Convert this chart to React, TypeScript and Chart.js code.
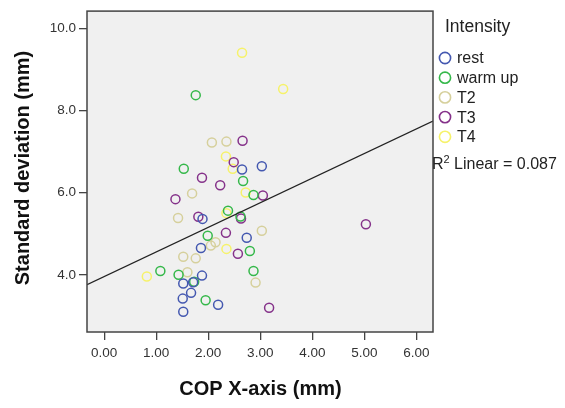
import React, { useEffect, useRef } from 'react';
import { Chart, registerables } from 'chart.js';

Chart.register(...registerables);

const FONT = "'Liberation Sans', Arial, Helvetica, sans-serif";

// Data (x = COP X-axis mm, y = standard deviation mm)
const restPoints: [number, number][] = [
  [2.65, 6.56], [3.03, 6.64], [1.89, 5.36], [2.74, 4.9], [1.86, 4.65], [1.88, 3.98],
  [1.52, 3.79], [1.71, 3.82], [1.67, 3.56], [1.51, 3.42], [2.19, 3.27], [1.52, 3.1],
];
const warmUpPoints: [number, number][] = [
  [1.76, 8.37], [1.53, 6.58], [2.67, 6.28], [2.87, 5.94], [2.38, 5.56], [2.62, 5.42],
  [1.99, 4.95], [2.8, 4.58], [1.08, 4.09], [1.43, 4.0], [2.87, 4.09], [1.73, 3.83], [1.95, 3.38],
];
const t2Points: [number, number][] = [
  [2.07, 7.22], [2.35, 7.24], [1.69, 5.98], [1.42, 5.38], [3.03, 5.07], [2.14, 4.79],
  [2.05, 4.71], [1.52, 4.44], [1.76, 4.4], [1.6, 4.06], [2.91, 3.81],
];
const t3Points: [number, number][] = [
  [2.66, 7.26], [2.49, 6.74], [1.88, 6.36], [2.23, 6.18], [3.05, 5.93], [1.37, 5.84],
  [1.81, 5.41], [2.63, 5.37], [5.03, 5.23], [2.34, 5.02], [2.57, 4.51], [3.17, 3.2],
];
const t4Points: [number, number][] = [
  [2.65, 9.4], [3.44, 8.52], [2.34, 6.88], [2.47, 6.58], [2.72, 6.0], [2.35, 5.5],
  [2.35, 4.63], [0.82, 3.96],
];

const seriesNames = ['rest', 'warm up', 'T2', 'T3', 'T4'];
const seriesData = [restPoints, warmUpPoints, t2Points, t3Points, t4Points];
const seriesColors = ['#4458b0', '#35b84a', '#d6d09c', '#85328a', '#f6f26a'];

// Linear fit line (total)
const fitIntercept = 3.956;
const fitSlope = 0.599;
const fitRange = [-0.33, 6.32];
const r2Label = '0.087';

const xTicks = [0, 1, 2, 3, 4, 5, 6];
const yTicks = [4, 6, 8, 10];
const xRange = [-0.33, 6.32];
const yRange = [2.608, 10.415];

const legendTitle = 'Intensity';
const xTitle = 'COP X-axis (mm)';
const yTitle = 'Standard deviation (mm)';

const decorPlugin = {
  id: 'decor',
  beforeDraw(chart: any) {
    const { ctx, chartArea: a } = chart;
    ctx.save();
    ctx.fillStyle = '#f0f0f0';
    ctx.fillRect(a.left, a.top, a.right - a.left, a.bottom - a.top);
    ctx.restore();
  },
  afterDraw(chart: any) {
    const { ctx, chartArea: a } = chart;
    ctx.save();
    // frame
    ctx.strokeStyle = '#444444';
    ctx.lineWidth = 1.5;
    ctx.strokeRect(a.left, a.top, a.right - a.left, a.bottom - a.top);

    // axis titles
    ctx.fillStyle = '#111111';
    ctx.font = `bold 20px ${FONT}`;
    ctx.textAlign = 'center';
    ctx.textBaseline = 'middle';
    ctx.fillText(xTitle, 260.5, 389);
    ctx.save();
    ctx.translate(23, 168);
    ctx.rotate(-Math.PI / 2);
    ctx.fillText(yTitle, 0, 0);
    ctx.restore();

    // legend
    ctx.textAlign = 'left';
    ctx.fillStyle = '#222222';
    ctx.font = `17.5px ${FONT}`;
    ctx.fillText(legendTitle, 445, 27);
    ctx.font = `16px ${FONT}`;
    seriesNames.forEach((name, i) => {
      const cy = 58 + i * 19.7;
      ctx.beginPath();
      ctx.arc(445, cy, 5.6, 0, Math.PI * 2);
      ctx.strokeStyle = seriesColors[i];
      ctx.lineWidth = 1.6;
      ctx.stroke();
      ctx.fillStyle = '#222222';
      ctx.fillText(name, 457, cy + 1);
    });
    // R² label
    const ry = 165;
    ctx.font = `16px ${FONT}`;
    ctx.fillText('R', 432, ry);
    const rw = ctx.measureText('R').width;
    ctx.font = `11px ${FONT}`;
    ctx.fillText('2', 432 + rw, ry - 5);
    const sw = ctx.measureText('2').width;
    ctx.font = `16px ${FONT}`;
    ctx.fillText(` Linear = ${r2Label}`, 432 + rw + sw, ry);
    ctx.restore();
  },
};

export default function App() {
  const ref = useRef<HTMLCanvasElement | null>(null);

  useEffect(() => {
    if (!ref.current) return;
    const datasets: any[] = seriesData.map((pts, i) => ({
      type: 'scatter',
      label: seriesNames[i],
      data: pts.map(([x, y]) => ({ x, y })),
      borderColor: seriesColors[i],
      backgroundColor: 'rgba(0,0,0,0)',
      pointRadius: 4.5,
      pointBorderWidth: 1.5,
      pointHoverRadius: 4.5,
    }));
    datasets.push({
      type: 'line',
      label: 'fit',
      data: fitRange.map((x) => ({ x, y: fitIntercept + fitSlope * x })),
      borderColor: '#222222',
      borderWidth: 1.3,
      pointRadius: 0,
      fill: false,
      order: -1,
    });

    const gridCfg = {
      drawOnChartArea: false,
      drawTicks: true,
      tickLength: 8,
      color: '#444444',
      lineWidth: 1.3,
    };

    const chart = new Chart(ref.current, {
      type: 'scatter',
      data: { datasets },
      options: {
        animation: false,
        responsive: false,
        devicePixelRatio: 1,
        layout: { padding: { left: 0, top: 7, right: 132, bottom: 0 } },
        plugins: { legend: { display: false }, tooltip: { enabled: false } },
        scales: {
          x: {
            type: 'linear',
            min: xRange[0],
            max: xRange[1],
            afterFit(s: any) {
              s.height = 76;
            },
            afterBuildTicks(s: any) {
              s.ticks = xTicks.map((v) => ({ value: v }));
            },
            ticks: {
              callback: (v: any) => Number(v).toFixed(2),
              font: { family: FONT, size: 13.5 },
              color: '#333333',
              padding: 5,
              maxRotation: 0,
              autoSkip: false,
            },
            grid: gridCfg,
            border: { display: false },
          },
          y: {
            type: 'linear',
            min: yRange[0],
            max: yRange[1],
            afterFit(s: any) {
              s.width = 87;
            },
            afterBuildTicks(s: any) {
              s.ticks = yTicks.map((v) => ({ value: v }));
            },
            ticks: {
              callback: (v: any) => Number(v).toFixed(1),
              font: { family: FONT, size: 13.5 },
              color: '#333333',
              padding: 3,
              autoSkip: false,
            },
            grid: gridCfg,
            border: { display: false },
          },
        },
      } as any,
      plugins: [decorPlugin],
    });
    return () => chart.destroy();
  }, []);

  return (
    <div style={{ position: 'absolute', left: 0, top: 0, width: 565, height: 408, background: '#ffffff' }}>
      <canvas ref={ref} width={565} height={408} style={{ display: 'block' }} />
    </div>
  );
}
